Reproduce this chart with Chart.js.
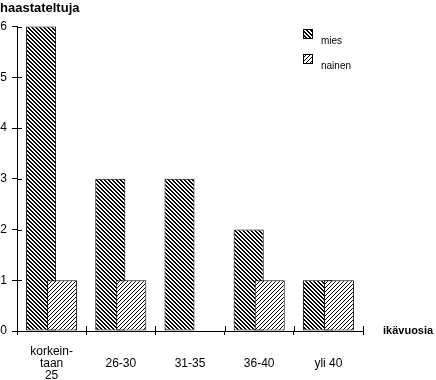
<!DOCTYPE html>
<html>
<head>
<meta charset="utf-8">
<script src="https://cdn.jsdelivr.net/npm/chart.js@4/dist/chart.umd.min.js"></script>
<style>
  html, body { margin: 0; padding: 0; background: #fff; }
  canvas { display: block; }
</style>
</head>
<body>
<canvas id="chart" width="436" height="380"></canvas>
<script>
// data
const ageGroups = [["korkein-", "taan", "25"], "26-30", "31-35", "36-40", "yli 40"];
const menCounts = [6, 3, 3, 2, 1];
const womenCounts = [1, 1, 0, 1, 1];
const seriesNames = ["mies", "nainen"];
const yTitle = "haastateltuja";
const xTitle = "ikävuosia";

Chart.defaults.font.family = "'Liberation Sans', Arial, sans-serif";
Chart.defaults.color = "#000";

const canvas = document.getElementById("chart");
const ctx = canvas.getContext("2d");

// 4x4 hatch tile, back = "\\\\" lines, otherwise "////"
function hatch(back, thick) {
  const tile = document.createElement("canvas");
  tile.width = 4;
  tile.height = 4;
  const c = tile.getContext("2d");
  c.fillStyle = "#fff";
  c.fillRect(0, 0, 4, 4);
  c.fillStyle = "#000";
  for (let y = 0; y < 4; y++) {
    for (let x = 0; x < 4; x++) {
      const d = back ? (x - y + 4) % 4 : (x + y) % 4;
      if (d < thick) c.fillRect(x, y, 1, 1);
    }
  }
  return ctx.createPattern(tile, "repeat");
}

const menFill = hatch(true, 2);
const womenFill = hatch(false, 1);

// draw mies first so nainen sits on top where they overlap
const drawOrder = {
  id: "drawOrder",
  beforeDatasetsDraw(chart) {
    chart.getDatasetMeta(0).controller.draw();
    chart.getDatasetMeta(1).controller.draw();
    return false;
  },
};

const extras = {
  id: "extras",
  afterDraw(chart) {
    const { ctx, chartArea, scales } = chart;
    const area = chartArea;
    ctx.save();
    ctx.strokeStyle = "#000";
    ctx.lineWidth = 1;
    ctx.beginPath();
    // inner half of the crossing ticks
    scales.y.ticks.forEach((t) => {
      const py = Math.round(scales.y.getPixelForValue(t.value)) + 0.5;
      ctx.moveTo(area.left, py);
      ctx.lineTo(area.left + 5, py);
    });
    const step = scales.x.width / ageGroups.length;
    for (let i = 1; i <= ageGroups.length; i++) {
      const px = Math.round(area.left + step * i) + 0.5;
      ctx.moveTo(px, area.bottom);
      ctx.lineTo(px, area.bottom - 5);
    }
    ctx.stroke();

    // axis name at the end of the x axis
    ctx.fillStyle = "#000";
    ctx.font = "bold 11px 'Liberation Sans', Arial, sans-serif";
    ctx.textBaseline = "middle";
    ctx.textAlign = "left";
    ctx.fillText(xTitle, area.right + 20, area.bottom);

    // legend
    const fills = [menFill, womenFill];
    ctx.font = "10px 'Liberation Sans', Arial, sans-serif";
    ctx.textBaseline = "alphabetic";
    chart.data.datasets.forEach((ds, i) => {
      const bx = 303;
      const by = 29 + i * 25;
      ctx.fillStyle = fills[i];
      ctx.fillRect(bx, by, 9, 9);
      ctx.strokeRect(bx + 0.5, by + 0.5, 9, 9);
      ctx.fillStyle = "#000";
      ctx.fillText(ds.label, bx + 18, by + 15);
    });
    ctx.restore();
  },
};

new Chart(ctx, {
  type: "bar",
  data: {
    labels: ageGroups,
    datasets: [
      {
        label: seriesNames[0],
        data: menCounts,
        backgroundColor: menFill,
        borderColor: "#000",
        borderWidth: 1,
        borderSkipped: false,
      },
      {
        label: seriesNames[1],
        data: womenCounts,
        backgroundColor: womenFill,
        borderColor: "#000",
        borderWidth: 1,
        borderSkipped: false,
      },
    ],
  },
  options: {
    responsive: false,
    animation: false,
    layout: { padding: { right: 73 } },
    datasets: {
      bar: { categoryPercentage: 0.607, barPercentage: 1.43 },
    },
    plugins: {
      legend: { display: false },
      tooltip: { enabled: false },
      title: {
        display: true,
        text: yTitle,
        align: "start",
        color: "#000",
        font: { size: 13, weight: "bold" },
        padding: { top: 1, bottom: 10 },
      },
    },
    scales: {
      x: {
        grid: { offset: true, drawOnChartArea: false, tickLength: 4, color: "#000" },
        border: { color: "#000" },
        ticks: {
          color: "#000",
          font: { size: 12, lineHeight: 1.0 },
          padding: 17,
          maxRotation: 0,
          autoSkip: false,
          crossAlign: "center",
        },
        afterFit(scale) {
          scale.height = 49;
        },
      },
      y: {
        min: 0,
        max: 6,
        ticks: { stepSize: 1, color: "#000", padding: 5, font: { size: 12 } },
        grid: { drawOnChartArea: false, tickLength: 5, color: "#000" },
        border: { color: "#000" },
        afterFit(scale) {
          scale.width = 17;
        },
      },
    },
  },
  plugins: [drawOrder, extras],
});
</script>
</body>
</html>
